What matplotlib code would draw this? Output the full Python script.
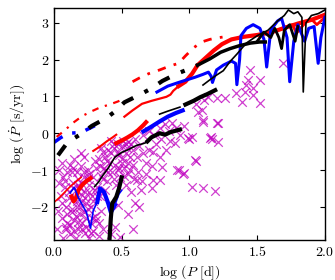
import numpy as np
import matplotlib
matplotlib.use('Agg')
import matplotlib.pyplot as plt
from matplotlib import rcParams

rcParams['mathtext.fontset'] = 'cm'
rcParams['font.family'] = 'serif'
rcParams['font.serif'] = ['DejaVu Serif']
rcParams['xtick.direction'] = rcParams['ytick.direction'] = 'in'
rcParams['xtick.top'] = rcParams['ytick.right'] = True
rcParams['xtick.major.size'] = rcParams['ytick.major.size'] = 3.5
rcParams['axes.linewidth'] = 1.0

# Data.

x_ticks = [0.0, 0.5, 1.0, 1.5, 2.0]
y_ticks = [-2, -1, 0, 1, 2, 3]

# observed pulsators (crosses)
obs_x = [1.06, 1.10, 1.21, 1.17, 1.21, 1.00, 1.05, 0.91, 0.95, 1.02, 1.10, 1.19, 0.87, 0.89,
         0.73, 0.78, 0.80, 0.73, 0.72, 1.69, 1.45, 1.52, 1.43, 1.42, 1.47, 1.34, 1.41, 1.47,
         1.39, 1.52, 1.26, 1.20, 1.14, 1.11, 1.09, 1.05, 1.10, 1.20, 1.16, 1.02, 0.99, 1.15,
         0.92, 0.96, 1.04,
         0.04, 0.07, 0.10, 0.12, 0.08, 0.05, 0.11, 0.14, 0.17, 0.20, 0.22, 0.25, 0.19, 0.23,
         0.26, 0.29, 0.31, 0.28, 0.21, 0.17, 0.13, 0.09, 0.06, 0.10, 0.15, 0.19, 0.24, 0.27,
         0.30, 0.33, 0.29, 0.23, 0.18, 0.12, 0.07, 0.16, 0.26, 0.33, 0.35, 0.34, 0.32, 0.36,
         0.38, 0.14, 0.20, 0.24, 0.03, 0.02, 0.09, 0.21, 0.27, 0.36, 0.16, 0.25, 0.30, 0.13,
         0.18, 0.06, 0.15, 0.22,
         0.33, 0.36, 0.39, 0.42, 0.45, 0.48, 0.50, 0.53, 0.55, 0.58, 0.61, 0.63, 0.66, 0.68,
         0.70, 0.40, 0.44, 0.47, 0.52, 0.56, 0.59, 0.62, 0.65, 0.53, 0.57, 0.61, 0.64, 0.68,
         0.72, 0.75, 0.79, 0.83, 0.86, 0.74, 0.60, 0.55, 0.47, 0.42, 0.37, 0.50, 0.66, 0.70,
         0.78, 0.82, 0.85, 0.90, 0.93, 0.96,
         0.63, 0.49, 0.42, 0.55, 0.60, 0.78, 0.47, 0.45, 0.58,
         0.08, 0.11, 0.14, 0.17, 0.20, 0.23, 0.26, 0.29, 0.32, 0.10, 0.13, 0.16, 0.19, 0.22,
         0.25, 0.28, 0.31, 0.09, 0.12, 0.15, 0.18, 0.21, 0.24, 0.27, 0.14, 0.18, 0.22, 0.26,
         0.30, 0.34, 0.38, 0.41, 0.44, 0.47, 0.50, 0.53, 0.56, 0.35, 0.39, 0.43, 0.46, 0.49,
         0.52, 0.55, 0.58, 0.40, 0.44, 0.48, 0.51, 0.54, 0.57, 0.04, 0.06, 0.20, 0.35, 0.38]
obs_y = [0.57, 0.30, 0.27, -0.16, -0.24, -0.16, -0.76, -1.00, -1.12, -1.47, -1.50, -1.58, 0.27, -0.27,
         -0.52, -0.65, -0.93, -1.28, -1.50, 1.90, 1.72, 1.44, 1.44, 1.30, 1.22, 1.09, 1.12, 1.04,
         0.85, 0.82, 0.95, 0.95, 0.98, 0.90, 0.63, 0.80, 0.35, 0.27, -0.10, -0.10, -0.14, -0.14,
         -1.00, -1.08, -0.74,
         -1.00, -1.20, -1.05, -0.85, -1.45, -1.70, -1.60, -1.35, -1.05, -0.90, -1.20, -1.00, -1.50, -1.60,
         -1.40, -1.20, -0.95, -1.70, -1.85, -2.00, -2.15, -2.00, -2.30, -2.45, -2.35, -2.20, -2.30, -2.00,
         -2.25, -2.45, -2.65, -2.70, -2.60, -2.75, -2.85, -2.85, -2.85, -2.80, -2.10, -1.70, -1.45, -1.25,
         -1.00, -1.80, -1.65, -1.90, -2.10, -2.60, -2.60, -2.45, -2.45, -2.60, -1.55, -1.25, -1.55, -1.05,
         -1.25, -0.80, -0.70, -0.65,
         -0.70, -0.50, -0.75, -0.55, -0.85, -0.60, -0.35, -0.55, -0.80, -0.45, -0.65, -0.35, -0.55, -0.80,
         -0.45, -1.05, -1.25, -1.00, -1.15, -1.00, -1.25, -1.05, -1.30, -1.40, -1.60, -1.28, -1.55, -1.10,
         -0.90, -0.30, -0.15, -0.45, -0.20, -0.05, -0.15, -0.25, -0.30, -0.20, -0.95, -0.80, -0.05, 0.05,
         0.15, 0.25, 0.05, 0.15, -0.05, 0.20,
         -2.00, -2.83, -2.75, -2.20, -1.90, -1.28, -1.95, -2.55, -2.60,
         -1.30, -1.75, -1.50, -1.85, -1.35, -1.75, -1.60, -1.85, -1.70, -2.20, -2.05, -2.25, -2.00, -2.15,
         -2.05, -2.30, -2.35, -2.55, -2.50, -2.65, -2.40, -2.60, -2.55, -2.70, -0.95, -1.40, -1.05, -1.10,
         -0.75, -0.90, -0.65, -0.80, -0.40, -0.50, -0.70, -0.30, -0.65, -1.15, -1.30, -1.05, -1.40, -1.20,
         -0.95, -1.10, -0.85, -0.45, -0.30, -0.95, -0.20, -0.40, -0.30, -1.35, -1.90, -0.55, -0.40, -1.55]

# red models
red_dd1_x = [0.02, 0.08, 0.14, 0.21, 0.28, 0.34, 0.41, 0.47, 0.52]
red_dd1_y = [-0.10, 0.08, 0.28, 0.47, 0.60, 0.70, 0.78, 0.86, 0.94]
red_dd2_x = [0.58, 0.63, 0.70, 0.78, 0.85, 0.92, 0.97, 1.03, 1.09, 1.15, 1.20, 1.26]
red_dd2_y = [1.40, 1.50, 1.62, 1.72, 1.82, 1.90, 2.10, 2.32, 2.48, 2.55, 2.59, 2.62]
red_thin_x = [0.00, 0.04, 0.08, 0.12, 0.16, 0.20]
red_thin_y = [-1.88, -1.75, -1.60, -1.45, -1.32, -1.20]
red_lo_x = [0.13, 0.145, 0.16, 0.18, 0.21, 0.24, 0.27]
red_lo_y = [-1.72, -1.85, -1.78, -1.55, -1.40, -1.30, -1.22]
red_mid_thin_x = [0.29, 0.34, 0.39, 0.43, 0.46]
red_mid_thin_y = [-0.48, -0.36, -0.22, -0.12, -0.04]
red_mid_x = [0.46, 0.50, 0.54, 0.58, 0.62, 0.66, 0.68]
red_mid_y = [-0.27, -0.20, -0.12, -0.03, 0.08, 0.22, 0.30]
red_up_x = [0.52, 0.58, 0.65, 0.72, 0.78, 0.83, 0.86, 0.88, 0.92]
red_up_y = [0.45, 0.62, 0.80, 0.88, 0.94, 0.99, 1.05, 1.15, 1.28]
red_top_x = [0.92, 0.97, 1.02, 1.06, 1.12, 1.18, 1.24, 1.31, 1.40, 1.50, 1.60, 1.70, 1.80, 1.90, 2.00]
red_top_y = [1.28, 1.40, 1.62, 1.85, 2.05, 2.25, 2.42, 2.55, 2.62, 2.67, 2.74, 2.86, 2.98, 3.08, 3.22]
red_loop_x = [1.62, 1.70, 1.76, 1.79, 1.82, 1.86, 1.90, 1.94, 1.97, 2.00]
red_loop_y = [2.75, 2.88, 2.95, 2.72, 2.85, 3.02, 3.10, 2.95, 3.05, 3.15]

# black models
blk_dd_x = [0.03, 0.10, 0.20, 0.28, 0.39, 0.46, 0.52, 0.58, 0.65, 0.72, 0.80, 0.87, 0.93, 1.00, 1.06]
blk_dd_y = [-0.60, -0.25, -0.02, 0.20, 0.42, 0.62, 0.84, 0.95, 1.08, 1.22, 1.42, 1.55, 1.65, 1.75, 1.85]
blk_top_x = [1.06, 1.15, 1.23, 1.30, 1.37, 1.45, 1.52, 1.56]
blk_top_y = [1.85, 2.02, 2.20, 2.30, 2.38, 2.45, 2.48, 2.48]
blk_loop_x = [1.50, 1.55, 1.60, 1.63, 1.66, 1.68, 1.70, 1.74, 1.78, 1.80]
blk_loop_y = [2.50, 2.75, 2.60, 2.85, 2.60, 2.30, 2.80, 2.95, 2.50, 2.90]
blk_bot_x = [0.41, 0.42, 0.43, 0.44, 0.46, 0.48, 0.50]
blk_bot_y = [-2.90, -2.30, -1.90, -1.85, -1.73, -1.50, -1.20]
blk_thin1_x = [0.30, 0.33, 0.36, 0.40, 0.45, 0.50, 0.54, 0.61, 0.66, 0.69]
blk_thin1_y = [-1.45, -1.32, -1.15, -0.95, -0.65, -0.52, -0.46, -0.33, -0.28, -0.24]
blk_thick1_x = [0.69, 0.72, 0.78, 0.82, 0.86, 0.93]
blk_thick1_y = [-0.22, -0.11, 0.00, -0.04, 0.03, 0.10]
blk_thin2_x = [0.78, 0.84, 0.93]
blk_thin2_y = [0.52, 0.60, 0.71]
blk_thick2_x = [0.97, 1.03, 1.08, 1.13, 1.19]
blk_thick2_y = [0.78, 0.88, 0.98, 1.06, 1.17]
blk_thin3_x = [1.10, 1.15, 1.20, 1.25, 1.30, 1.35, 1.42, 1.50, 1.58, 1.65, 1.70, 1.73, 1.77,
               1.80, 1.83, 1.84, 1.86, 1.90, 1.95, 2.00]
blk_thin3_y = [1.31, 1.45, 1.58, 1.70, 1.95, 2.15, 2.45, 2.65, 2.80, 3.05, 3.20, 3.35, 3.25,
               3.30, 3.15, 1.12, 3.00, 3.20, 3.25, 3.35]

# blue models
blu_dd_x = [0.00, 0.05, 0.11, 0.20, 0.31]
blu_dd_y = [-0.25, -0.12, 0.00, 0.02, 0.22]
blu_lo_x = [0.12, 0.15, 0.18, 0.21, 0.24, 0.27, 0.29, 0.32, 0.34, 0.37, 0.40, 0.42, 0.45, 0.48, 0.50]
blu_lo_y = [-1.62, -1.47, -1.75, -1.95, -2.15, -2.58, -2.10, -1.87, -1.50, -1.60, -1.90, -2.15,
            -1.95, -1.65, -1.55]
blu_mid_x = [0.66, 0.72, 0.78, 0.84, 0.90, 0.95]
blu_mid_y = [0.05, 0.18, 0.32, 0.45, 0.55, 0.62]
blu_up_x = [0.76, 0.84, 0.92, 0.98, 1.04, 1.10, 1.14, 1.16, 1.17, 1.20, 1.25, 1.31, 1.34, 1.35,
            1.37, 1.38, 1.42, 1.47, 1.52, 1.55, 1.57, 1.60, 1.65, 1.68, 1.72, 1.74, 1.77, 1.80,
            1.85, 1.88, 1.92, 1.95, 1.97, 2.00]
blu_up_y = [1.12, 1.28, 1.38, 1.45, 1.52, 1.60, 1.66, 1.55, 1.38, 1.72, 1.85, 1.96, 1.90, 1.32,
            2.00, 2.65, 2.85, 2.95, 2.85, 2.55, 1.80, 2.80, 3.05, 3.12, 2.60, 1.40, 2.50, 2.95,
            2.50, 2.85, 2.90, 1.90, 2.60, 3.15]

# Plot.

fig = plt.figure(figsize=(3.35, 2.8), dpi=100)
ax = fig.add_axes([0.161, 0.143, 0.809, 0.828])

ax.scatter(obs_x, obs_y, marker='x', s=38, color='m', alpha=0.75, linewidths=0.9, zorder=2)

dashdot = (0, (3, 3, 1, 3))
ax.plot(red_dd1_x, red_dd1_y, color='r', lw=1.6, ls=dashdot)
ax.plot(red_dd2_x, red_dd2_y, color='r', lw=2.0, ls=dashdot)
ax.plot(red_thin_x, red_thin_y, color='r', lw=1.2)
ax.plot(red_lo_x, red_lo_y, color='r', lw=3.0)
ax.plot(red_mid_thin_x, red_mid_thin_y, color='r', lw=1.5)
ax.plot(red_mid_x, red_mid_y, color='r', lw=3.0)
ax.plot(red_up_x, red_up_y, color='r', lw=1.6)
ax.plot(red_top_x, red_top_y, color='r', lw=3.0)
ax.plot(red_loop_x, red_loop_y, color='r', lw=2.0)

ax.plot(blu_dd_x, blu_dd_y, color='b', lw=2.5, ls=dashdot)
ax.plot(blu_lo_x, blu_lo_y, color='b', lw=1.2)
ax.plot(blu_lo_x[7:13], blu_lo_y[7:13], color='b', lw=3.0)
ax.plot(blu_mid_x, blu_mid_y, color='b', lw=3.0)
ax.plot(blu_up_x, blu_up_y, color='b', lw=2.2)

ax.plot(blk_dd_x, blk_dd_y, color='k', lw=3.0, ls=dashdot)
ax.plot(blk_top_x, blk_top_y, color='k', lw=2.5)
ax.plot(blk_loop_x, blk_loop_y, color='k', lw=2.0)
ax.plot(blk_bot_x, blk_bot_y, color='k', lw=3.0)
ax.plot(blk_thin1_x, blk_thin1_y, color='k', lw=1.2)
ax.plot(blk_thick1_x, blk_thick1_y, color='k', lw=3.0)
ax.plot(blk_thin2_x, blk_thin2_y, color='k', lw=1.2)
ax.plot(blk_thick2_x, blk_thick2_y, color='k', lw=3.0)
ax.plot(blk_thin3_x, blk_thin3_y, color='k', lw=1.2)

ax.set_xlim(0, 2)
ax.set_ylim(-2.9, 3.4)
ax.set_xticks(x_ticks)
ax.set_xticklabels(['$%.1f$' % v for v in x_ticks], fontsize=10)
ax.set_yticks(y_ticks)
ax.set_yticklabels(['$%d$' % v for v in y_ticks], fontsize=10)
ax.set_xlabel(r'$\log\,(P\ [\mathrm{d}])$', fontsize=10, labelpad=3)
ax.set_ylabel(r'$\log\,(\dot P\ [\mathrm{s/yr}])$', fontsize=10, labelpad=2)

fig.savefig('out.png', dpi=100)
